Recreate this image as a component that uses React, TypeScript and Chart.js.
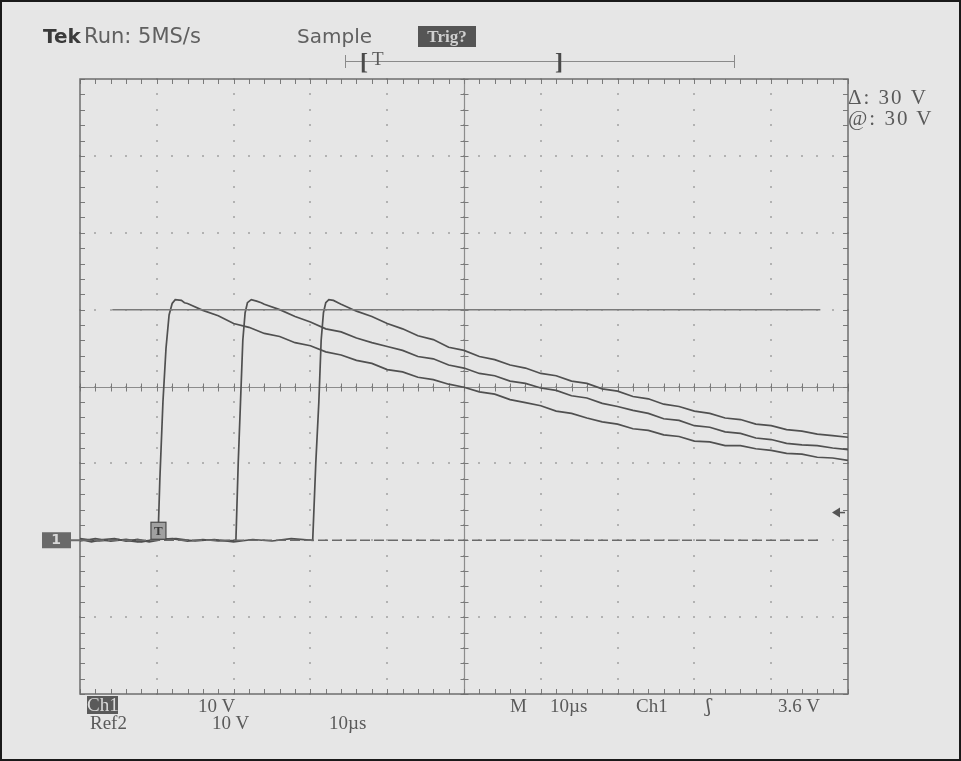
import React, { useEffect, useRef } from "react";
import { Chart, registerables } from "chart.js";

Chart.register(...registerables);

// ---- Data (time in µs, amplitude in V) ----
const trace1Time = [0, 1.5, 3, 4.5, 6, 7.5, 9, 10.15, 10.4, 10.8, 11.2, 11.6, 12.0, 12.4, 13.2, 13.6,
  14, 16, 18, 20, 22, 24, 26, 28, 30, 32, 34, 36, 38, 40, 42, 44, 46, 48, 50, 52, 54, 56, 58, 60,
  62, 64, 66, 68, 70, 72, 74, 76, 78, 80, 82, 84, 86, 88, 90, 92, 94, 96, 98, 100];
const trace1Volt = [0.1, -0.2, 0.1, 0.2, -0.1, 0.1, -0.2, 0, 8, 18, 25, 29.3, 30.8, 31.3, 31.2, 30.9,
  30.8, 29.9, 29.2, 28.2, 27.7, 26.9, 26.5, 25.7, 25.3, 24.5, 24.1, 23.4, 23.0, 22.2, 21.9, 21.2, 20.9, 20.3, 19.9, 19.3, 19.0, 18.3, 17.9, 17.5,
  16.8, 16.5, 15.9, 15.4, 15.1, 14.5, 14.3, 13.7, 13.5, 12.9, 12.8, 12.3, 12.3, 11.9, 11.7, 11.3, 11.2, 10.8, 10.7, 10.4];

const trace2Time = [0, 2, 4, 6, 8, 10, 12, 14, 16, 18, 20.3, 20.6, 20.9, 21.2, 21.5, 21.8, 22.3, 23.0, 23.6,
  24, 26, 28, 30, 32, 34, 36, 38, 40, 42, 44, 46, 48, 50, 52, 54, 56, 58, 60,
  62, 64, 66, 68, 70, 72, 74, 76, 78, 80, 82, 84, 86, 88, 90, 92, 94, 96, 98, 100];
const trace2Volt = [-0.1, 0.2, -0.1, 0.1, -0.2, 0.1, 0.2, -0.1, 0.1, -0.1, 0, 10, 18, 26, 29.6, 30.9, 31.3, 31.1, 30.9,
  30.7, 30.0, 29.1, 28.4, 27.5, 27.1, 26.3, 25.7, 25.2, 24.7, 23.9, 23.6, 22.8, 22.4, 21.7, 21.4, 20.7, 20.4, 19.8,
  19.5, 18.8, 18.5, 17.8, 17.4, 16.9, 16.5, 15.8, 15.6, 14.9, 14.7, 14.1, 13.9, 13.3, 13.1, 12.6, 12.4, 12.3, 12.0, 11.8];

const trace3Time = [0, 2.5, 5, 7.5, 10, 12.5, 15, 17.5, 20, 22.5, 25, 27.5, 30.3, 30.7, 31.1, 31.4, 31.7, 32.0, 32.4, 33.0, 33.6,
  34, 36, 38, 40, 42, 44, 46, 48, 50, 52, 54, 56, 58, 60,
  62, 64, 66, 68, 70, 72, 74, 76, 78, 80, 82, 84, 86, 88, 90, 92, 94, 96, 98, 100];
const trace3Volt = [0.2, -0.1, 0.1, -0.2, 0.1, 0.2, -0.1, 0.1, -0.2, 0.1, -0.1, 0.2, 0, 10, 18, 26, 29.6, 30.9, 31.3, 31.2, 30.9,
  30.7, 29.8, 29.1, 28.2, 27.5, 26.6, 26.1, 25.1, 24.7, 23.9, 23.5, 22.8, 22.4, 21.7,
  21.4, 20.7, 20.4, 19.7, 19.4, 18.7, 18.4, 17.7, 17.4, 16.8, 16.5, 15.9, 15.7, 15.1, 14.9, 14.4, 14.2, 13.8, 13.6, 13.4];

// Cursors (bars) and trigger
const cursorVolts = [30, 0];
const cursorStart = [4.2, 0];
const cursorEnd = [96.4, 96.4];
const triggerLevel = 3.6;
const triggerTime = 10.15;

// Axis extents: 10 divisions × 10 µs, 8 divisions × 10 V
const xMin = 0, xMax = 100, xDiv = 10;
const yMin = -20, yMax = 60, yDiv = 10;

const BG = "#e6e6e6";
const TRACE = "#505050";

const toPts = (t: number[], v: number[]) => t.map((x, i) => ({ x, y: v[i] }));

const scopePlugin = {
  id: "scope",
  beforeDraw(chart: any) {
    const ctx = chart.ctx;
    ctx.save();
    ctx.fillStyle = BG;
    ctx.fillRect(0, 0, chart.width, chart.height);
    ctx.strokeStyle = "#1a1a1a";
    ctx.lineWidth = 2;
    ctx.strokeRect(1, 1, chart.width - 2, chart.height - 2);
    ctx.restore();
  },
  beforeDatasetsDraw(chart: any) {
    const { ctx, chartArea: a, scales } = chart;
    const xs = scales.x, ys = scales.y;
    ctx.save();
    // dotted grid
    ctx.fillStyle = "#b2b2b2";
    for (let gx = xMin + xDiv; gx < xMax; gx += xDiv) {
      const px = Math.round(xs.getPixelForValue(gx));
      for (let v = yMin; v <= yMax; v += yDiv / 5) {
        const py = Math.round(ys.getPixelForValue(v));
        ctx.fillRect(px - 1, py - 1, 2, 2);
      }
    }
    for (let gy = yMin + yDiv; gy < yMax; gy += yDiv) {
      const py = Math.round(ys.getPixelForValue(gy));
      for (let t = xMin; t <= xMax; t += xDiv / 5) {
        const px = Math.round(xs.getPixelForValue(t));
        ctx.fillRect(px - 1, py - 1, 2, 2);
      }
    }
    // centre crosshair
    const cx = Math.round(xs.getPixelForValue((xMin + xMax) / 2)) + 0.5;
    const cy = Math.round(ys.getPixelForValue((yMin + yMax) / 2)) + 0.5;
    ctx.strokeStyle = "#8c8c8c";
    ctx.lineWidth = 1.2;
    ctx.beginPath();
    ctx.moveTo(cx, a.top); ctx.lineTo(cx, a.bottom);
    ctx.moveTo(a.left, cy); ctx.lineTo(a.right, cy);
    ctx.stroke();
    ctx.strokeStyle = "#7a7a7a";
    ctx.lineWidth = 1;
    ctx.beginPath();
    for (let v = yMin; v <= yMax; v += yDiv / 5) {
      const py = Math.round(ys.getPixelForValue(v)) + 0.5;
      ctx.moveTo(cx - 4, py); ctx.lineTo(cx + 4, py);
      ctx.moveTo(a.left, py); ctx.lineTo(a.left + 5, py);
      ctx.moveTo(a.right - 5, py); ctx.lineTo(a.right, py);
    }
    for (let t = xMin; t <= xMax; t += xDiv / 5) {
      const px = Math.round(xs.getPixelForValue(t)) + 0.5;
      ctx.moveTo(px, cy - 4); ctx.lineTo(px, cy + 4);
      ctx.moveTo(px, a.top); ctx.lineTo(px, a.top + 5);
      ctx.moveTo(px, a.bottom - 5); ctx.lineTo(px, a.bottom);
    }
    ctx.stroke();
    // frame
    ctx.strokeStyle = "#6e6e6e";
    ctx.lineWidth = 1.5;
    ctx.strokeRect(a.left, a.top, a.right - a.left, a.bottom - a.top);
    ctx.restore();
  },
  afterDatasetsDraw(chart: any) {
    const { ctx, chartArea: a, scales } = chart;
    const xs = scales.x, ys = scales.y;
    ctx.save();
    // trigger level arrow on the right
    const ty = ys.getPixelForValue(triggerLevel);
    ctx.fillStyle = "#555";
    ctx.beginPath();
    ctx.moveTo(a.right - 16, ty);
    ctx.lineTo(a.right - 8, ty - 5);
    ctx.lineTo(a.right - 8, ty + 5);
    ctx.closePath();
    ctx.fill();
    ctx.fillRect(a.right - 9, ty - 0.75, 6, 1.5);
    // trigger position marker
    const tx = xs.getPixelForValue(triggerTime);
    const gy = ys.getPixelForValue(0);
    ctx.fillStyle = "#a0a0a0";
    ctx.strokeStyle = "#4a4a4a";
    ctx.lineWidth = 1.2;
    ctx.fillRect(tx - 7, gy - 18, 15, 17);
    ctx.strokeRect(tx - 7, gy - 18, 15, 17);
    ctx.fillStyle = "#3a3a3a";
    ctx.font = "bold 13px 'Liberation Serif'";
    ctx.textAlign = "center";
    ctx.textBaseline = "middle";
    ctx.fillText("T", tx + 0.5, gy - 9);
    // ground marker on the left
    ctx.fillStyle = "#6a6a6a";
    ctx.fillRect(a.left - 38, gy - 8, 29, 16);
    ctx.fillStyle = "#d8d8d8";
    ctx.font = "bold 14px 'DejaVu Sans'";
    ctx.fillText("1", a.left - 24, gy);
    ctx.fillStyle = "#6a6a6a";
    ctx.fillRect(a.left - 9, gy - 1, 9, 2);
    ctx.restore();
  },
};

const Label = ({ x, y, text, size = 20, family = "'Liberation Serif', serif", color = "#5a5a5a", weight = 400, spacing = 0, bg, w, h }: any) => (
  <div
    style={{
      position: "absolute",
      left: x,
      top: y,
      fontSize: size,
      lineHeight: `${h ?? size}px`,
      height: h,
      width: w,
      fontFamily: family,
      color,
      fontWeight: weight,
      letterSpacing: spacing,
      whiteSpace: "pre",
      background: bg,
      textAlign: w ? "center" : "left",
    }}
  >
    {text}
  </div>
);

export default function App() {
  const ref = useRef<HTMLCanvasElement>(null);
  useEffect(() => {
    if (!ref.current) return;
    const lineDs = (label: string, t: number[], v: number[]) => ({
      label,
      data: toPts(t, v),
      borderColor: TRACE,
      borderWidth: 1.7,
      pointRadius: 0,
      tension: 0,
      fill: false,
    });
    const chart = new Chart(ref.current, {
      type: "line",
      data: {
        datasets: [
          {
            label: "cursor1",
            data: [{ x: cursorStart[0], y: cursorVolts[0] }, { x: cursorEnd[0], y: cursorVolts[0] }],
            borderColor: "#7a7a7a",
            borderWidth: 1.5,
            pointRadius: 0,
          },
          {
            label: "cursor2",
            data: [{ x: cursorStart[1], y: cursorVolts[1] }, { x: cursorEnd[1], y: cursorVolts[1] }],
            borderColor: "#6a6a6a",
            borderWidth: 1.5,
            borderDash: [10, 4],
            pointRadius: 0,
          },
          lineDs("Ch1 a", trace1Time, trace1Volt),
          lineDs("Ch1 b", trace2Time, trace2Volt),
          lineDs("Ch1 c", trace3Time, trace3Volt),
        ],
      },
      options: {
        responsive: false,
        animation: false,
        layout: { padding: { left: 80, right: 113, top: 79, bottom: 67 } },
        scales: {
          x: { type: "linear", min: xMin, max: xMax, display: false },
          y: { type: "linear", min: yMin, max: yMax, display: false },
        },
        plugins: { legend: { display: false }, tooltip: { enabled: false } },
        events: [],
      },
      plugins: [scopePlugin],
    });
    return () => chart.destroy();
  }, []);

  const sans = "'DejaVu Sans', sans-serif";
  return (
    <div style={{ position: "absolute", left: 0, top: 0, width: 961, height: 761 }}>
      <canvas ref={ref} width={961} height={761} style={{ display: "block" }} />
      {/* top status line */}
      <Label x={43} y={26} text="Tek" size={20} family={sans} color="#3a3a3a" weight={700} />
      <Label x={84} y={26} text="Run: 5MS/s" size={21} family={sans} color="#606060" />
      <Label x={297} y={26} text="Sample" size={20} family={sans} color="#606060" />
      <Label x={418} y={26} text="Trig?" size={17} color="#d0d0d0" weight={700} bg="#555" w={58} h={21} />
      {/* record bar */}
      <div style={{ position: "absolute", left: 345, top: 61, width: 390, height: 1, background: "#8a8a8a" }} />
      <div style={{ position: "absolute", left: 345, top: 55, width: 1, height: 13, background: "#8a8a8a" }} />
      <div style={{ position: "absolute", left: 734, top: 55, width: 1, height: 13, background: "#8a8a8a" }} />
      <Label x={360} y={49} text="[" size={24} color="#4a4a4a" weight={700} />
      <Label x={372} y={49} text="T" size={19} color="#5a5a5a" />
      <Label x={555} y={49} text="]" size={24} color="#4a4a4a" weight={700} />
      {/* cursor readouts */}
      <Label x={848} y={87} text="Δ: 30 V" size={21} color="#5a5a5a" spacing={2} />
      <Label x={848} y={108} text="@: 30 V" size={21} color="#5a5a5a" spacing={2} />
      {/* bottom readouts */}
      <Label x={87} y={696} text="Ch1" size={19} color="#dadada" bg="#5a5a5a" w={31} h={18} />
      <Label x={198} y={696} text="10 V" size={19} />
      <Label x={510} y={696} text="M" size={19} />
      <Label x={550} y={696} text="10µs" size={19} />
      <Label x={636} y={696} text="Ch1" size={19} />
      <Label x={706} y={696} text="ʃ" size={19} family="'DejaVu Serif', serif" />
      <Label x={778} y={696} text="3.6 V" size={19} />
      <Label x={90} y={713} text="Ref2" size={19} />
      <Label x={212} y={713} text="10 V" size={19} />
      <Label x={329} y={713} text="10µs" size={19} />
    </div>
  );
}
